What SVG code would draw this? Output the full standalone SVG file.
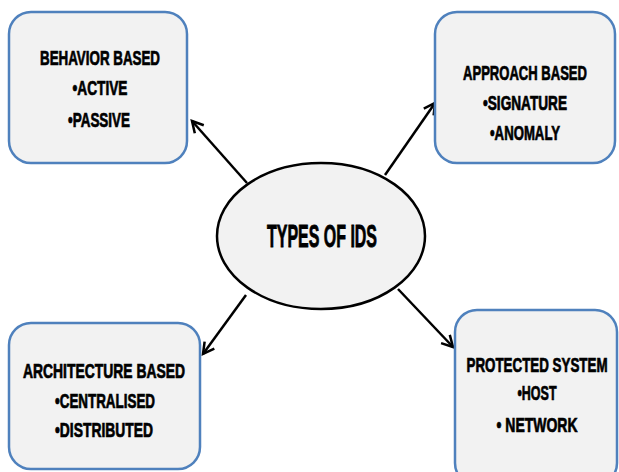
<svg xmlns="http://www.w3.org/2000/svg" width="619" height="472" viewBox="0 0 619 472">
<style>
.box{fill:#f2f2f2;stroke:#4f81bd;stroke-width:2.5}
.t{font-family:"Liberation Sans",Arial,sans-serif;font-weight:bold;font-size:14px;fill:#000;stroke:#000;stroke-width:0.5;text-anchor:middle}
.big{font-size:21px;stroke-width:0.6}
.c{stroke:#000;stroke-width:2.5;fill:none}
</style>
<defs>
<marker id="ah" markerUnits="userSpaceOnUse" markerWidth="16" markerHeight="16" refX="12" refY="7" orient="auto" viewBox="0 0 16 14">
<path d="M1,1 L12,7 L1,13" fill="none" stroke="#000" stroke-width="2.5"/>
</marker>
</defs>
<rect width="619" height="472" fill="#fff"/>
<g id="connectors">
<line class="c" x1="247" y1="183" x2="192" y2="121" marker-end="url(#ah)"/>
<line class="c" x1="385" y1="175" x2="435" y2="103" marker-end="url(#ah)"/>
<line class="c" x1="246" y1="295" x2="203" y2="354" marker-end="url(#ah)"/>
<line class="c" x1="398" y1="289" x2="453" y2="347" marker-end="url(#ah)"/>
</g>
<g id="behavior">
<rect class="box" x="9" y="12" width="178" height="151" rx="22"/>
<text class="t" transform="translate(100,65) scale(1,1.45)" textLength="120" lengthAdjust="spacingAndGlyphs">BEHAVIOR BASED</text>
<text class="t" transform="translate(100,95) scale(1,1.45)" textLength="55" lengthAdjust="spacingAndGlyphs">•ACTIVE</text>
<text class="t" transform="translate(99,127) scale(1,1.45)" textLength="62" lengthAdjust="spacingAndGlyphs">•PASSIVE</text>
</g>
<g id="approach">
<rect class="box" x="435" y="12" width="180" height="151" rx="22"/>
<text class="t" transform="translate(525,80) scale(1,1.45)" textLength="124" lengthAdjust="spacingAndGlyphs">APPROACH BASED</text>
<text class="t" transform="translate(525,110) scale(1,1.45)" textLength="84" lengthAdjust="spacingAndGlyphs">•SIGNATURE</text>
<text class="t" transform="translate(525,140) scale(1,1.45)" textLength="70" lengthAdjust="spacingAndGlyphs">•ANOMALY</text>
</g>
<g id="architecture">
<rect class="box" x="9" y="323" width="191" height="146" rx="22"/>
<text class="t" transform="translate(104,378) scale(1,1.45)" textLength="162" lengthAdjust="spacingAndGlyphs">ARCHITECTURE  BASED</text>
<text class="t" transform="translate(105,408) scale(1,1.45)" textLength="100" lengthAdjust="spacingAndGlyphs">•CENTRALISED</text>
<text class="t" transform="translate(104,437) scale(1,1.45)" textLength="98" lengthAdjust="spacingAndGlyphs">•DISTRIBUTED</text>
</g>
<g id="protected">
<rect class="box" x="455" y="310" width="162" height="175" rx="22"/>
<text class="t" transform="translate(537,372) scale(1,1.45)" textLength="141" lengthAdjust="spacingAndGlyphs">PROTECTED SYSTEM</text>
<text class="t" transform="translate(537,400) scale(1,1.45)" textLength="39" lengthAdjust="spacingAndGlyphs">•HOST</text>
<text class="t" transform="translate(537,432) scale(1,1.45)" textLength="81" lengthAdjust="spacingAndGlyphs">• NETWORK</text>
</g>
<g id="types">
<ellipse cx="321" cy="236" rx="104" ry="73" fill="#f2f2f2" stroke="#000" stroke-width="2.5"/>
<text class="t big" transform="translate(322,247) scale(1,1.45)" textLength="110" lengthAdjust="spacingAndGlyphs">TYPES OF IDS</text>
</g>
</svg>
